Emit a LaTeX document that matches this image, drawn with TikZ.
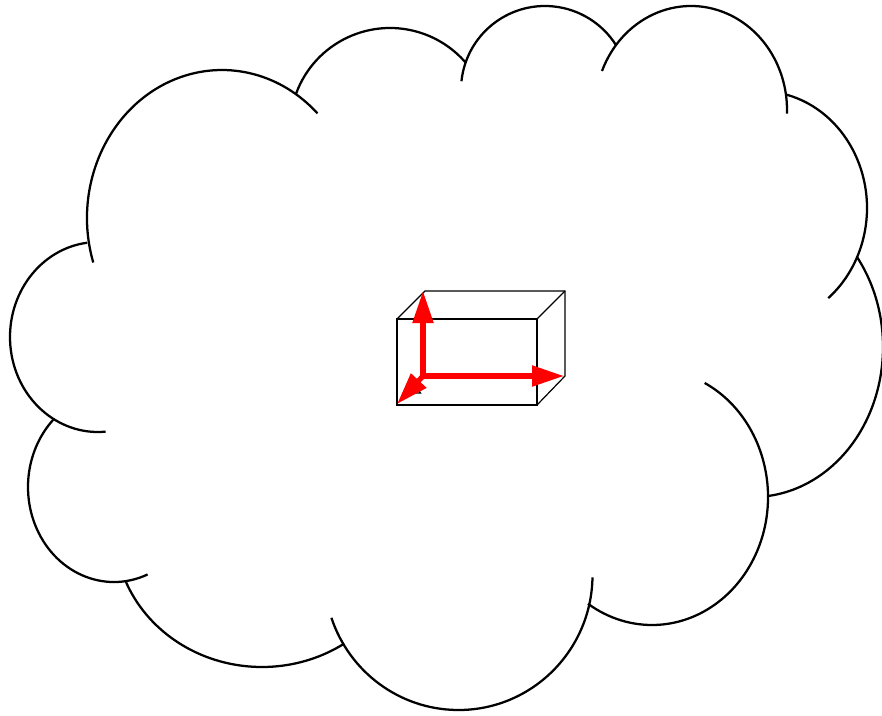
\documentclass[tikz,border=0pt]{standalone}
\usepackage{tikz}
\usetikzlibrary{arrows.meta}
\tikzstyle{cloudline} = [line width=1.7pt]
\tikzstyle{boxline} = [line width=0.9pt]
\tikzstyle{axisarrow} = [red,line width=3.9pt,-{Triangle[length=24pt,width=15pt]}]

\begin{document}
\begin{tikzpicture}[x=0.75pt,y=0.75pt,yscale=-1,xscale=1]
\useasboundingbox (0,0) rectangle (882,715);

%Cloud arcs
\draw [cloudline] (222,218) ++(162.5:135 and 148) arc [start angle=162.5, end angle=315, x radius=135, y radius=148];
\draw [cloudline] (390,128) ++(200:100 and 100) arc [start angle=200, end angle=319.2, x radius=100, y radius=100];
\draw [cloudline] (545,90) ++(186:84 and 84) arc [start angle=186, end angle=327.5, x radius=84, y radius=84];
\draw [cloudline] (691,110) ++(202:96 and 104) arc [start angle=202, end angle=362, x radius=96, y radius=104];
\draw [cloudline] (760,208) ++(284.6:107 and 117) arc [start angle=284.6, end angle=410.4, x radius=107, y radius=117];
\draw [cloudline] (753,347) ++(323.1:130 and 150) arc [start angle=323.1, end angle=443.4, x radius=130, y radius=150];
\draw [cloudline] (652,497) ++(297:116 and 128) arc [start angle=297, end angle=483.5, x radius=116, y radius=128];
\draw [cloudline] (458.5,575) ++(1:134 and 135) arc [start angle=1, end angle=161.5, x radius=134, y radius=135];
\draw [cloudline] (262,530) ++(56:147 and 137) arc [start angle=56, end angle=158, x radius=147, y radius=137];
\draw [cloudline] (114,487) ++(67:86 and 95) arc [start angle=67, end angle=225, x radius=86, y radius=95];
\draw [cloudline] (98,337) ++(85:88 and 95) arc [start angle=85, end angle=263, x radius=88, y radius=95];

%Box
\draw [boxline] (397,319) rectangle (537,405);
\draw [boxline] (397,319) -- (425,291) -- (565,291) -- (565,376) -- (537,405);
\draw [boxline] (537,319) -- (565,291);

%Small triangle behind the arrows
\draw [line width=0.9pt] (416.5,387) -- (412.5,393) -- (420.5,393) -- cycle;

%Axes
\coordinate (origin) at (423,376);
\coordinate (tipx) at (564,376);
\coordinate (tipy) at (423,291);
\coordinate (tipz) at (397,404);
\draw [axisarrow] (origin) -- (tipx);
\draw [axisarrow] (origin) -- (tipy);
\draw [axisarrow] (origin) -- (tipz);

\end{tikzpicture}
\end{document}
